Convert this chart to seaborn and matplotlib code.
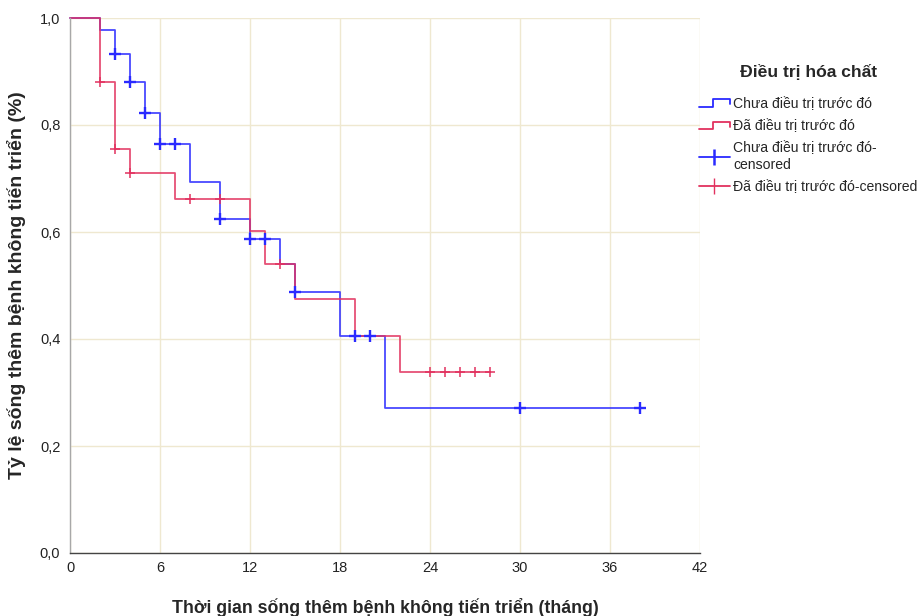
import numpy as np
import pandas as pd
import matplotlib
matplotlib.use("Agg")
import matplotlib.pyplot as plt
import seaborn as sns
from matplotlib.legend_handler import HandlerBase
from matplotlib.lines import Line2D
from matplotlib.ticker import FuncFormatter

# Kaplan-Meier step curves (time in months, survival proportion)
group_names = ["Chưa điều trị trước đó", "Đã điều trị trước đó"]

untreated_times = [0, 2, 3, 4, 5, 6, 8, 10, 12, 14, 15, 18, 21, 38]
untreated_surv = [1.0, 0.978, 0.933, 0.880, 0.823, 0.765, 0.694, 0.624,
                  0.586, 0.541, 0.487, 0.406, 0.271, 0.271]
untreated_censored = [3, 4, 5, 6, 7, 10, 12, 13, 15, 19, 20, 30, 38]

treated_times = [0, 2, 3, 4, 7, 12, 13, 15, 19, 22, 28]
treated_surv = [1.0, 0.880, 0.755, 0.710, 0.662, 0.601, 0.541, 0.474,
                0.406, 0.338, 0.338]
treated_censored = [2, 3, 4, 8, 10, 14, 24, 25, 26, 27, 28]

x_ticks = [0, 6, 12, 18, 24, 30, 36, 42]
y_ticks = [0.0, 0.2, 0.4, 0.6, 0.8, 1.0]

blue = "#2a2aff"
red = "#e2325f"


def surv_at(times, surv, t):
    idx = np.searchsorted(times, t, side="right") - 1
    return surv[idx]


curves = pd.concat([
    pd.DataFrame({"t": untreated_times, "s": untreated_surv, "g": group_names[0]}),
    pd.DataFrame({"t": treated_times, "s": treated_surv, "g": group_names[1]}),
], ignore_index=True)

marks = pd.concat([
    pd.DataFrame({"t": untreated_censored,
                  "s": [surv_at(untreated_times, untreated_surv, t) for t in untreated_censored],
                  "g": group_names[0]}),
    pd.DataFrame({"t": treated_censored,
                  "s": [surv_at(treated_times, treated_surv, t) for t in treated_censored],
                  "g": group_names[1]}),
], ignore_index=True)

sns.set_style("white")
plt.rcParams["font.family"] = ["Liberation Sans", "DejaVu Sans"]

fig = plt.figure(figsize=(9.21, 6.16), dpi=100)
ax = fig.add_axes([70 / 921, 1 - 553 / 616, 630 / 921, 535 / 616])

palette = {group_names[0]: blue, group_names[1]: red}
sns.lineplot(data=curves, x="t", y="s", hue="g", palette=palette,
             estimator=None, sort=False, drawstyle="steps-post",
             linewidth=1.3, alpha=0.85, legend=False, ax=ax)

sub_u = marks[marks["g"] == group_names[0]]
sub_t = marks[marks["g"] == group_names[1]]
sns.scatterplot(data=sub_t, x="t", y="s", marker="+", s=45, color=red,
                linewidth=1.1, legend=False, ax=ax, zorder=4)
sns.scatterplot(data=sub_u, x="t", y="s", marker="+", s=65, color=blue,
                linewidth=1.7, legend=False, ax=ax, zorder=5)

for artist in ax.lines + ax.collections:
    artist.set_clip_on(False)

ax.set_xlim(0, 42)
ax.set_ylim(0, 1.0)
ax.set_xticks(x_ticks)
ax.set_yticks(y_ticks)
ax.yaxis.set_major_formatter(FuncFormatter(lambda v, p: f"{v:.1f}".replace(".", ",")))
ax.tick_params(axis="x", length=0, pad=6, labelsize=10.5, colors="#222222")
ax.tick_params(axis="y", length=4, width=0.8, color="#555555", pad=3,
               labelsize=10.5, colors="#222222")

ax.grid(True, color="#efe8d0", linewidth=1.0)
ax.set_axisbelow(True)
for side in ["top", "right"]:
    ax.spines[side].set_visible(False)
ax.spines["left"].set_color("#a8a8a8")
ax.spines["left"].set_linewidth(1.0)
ax.spines["bottom"].set_color("#444444")
ax.spines["bottom"].set_linewidth(1.0)

ax.set_xlabel("Thời gian sống thêm bệnh không tiến triển (tháng)",
              fontsize=12.8, fontweight="bold", labelpad=16)
ax.set_ylabel("Tỷ lệ sống thêm bệnh không tiến triển (%)",
              fontsize=14, fontweight="bold", labelpad=10)


class StepHandler(HandlerBase):
    def create_artists(self, legend, orig_handle, xdescent, ydescent,
                       width, height, fontsize, trans):
        y0 = height * 0.1 - ydescent
        y1 = height * 0.85 - ydescent
        xs = [-xdescent, -xdescent + width * 0.45, -xdescent + width * 0.45,
              -xdescent + width, -xdescent + width]
        ys = [y0, y0, y1, y1, y0 + (y1 - y0) * 0.35]
        line = Line2D(xs, ys, color=orig_handle.get_color(), linewidth=1.3,
                      transform=trans)
        return [line]


class StepKey(Line2D):
    pass


handles = [
    StepKey([], [], color=blue),
    StepKey([], [], color=red),
    Line2D([], [], color=blue, linewidth=1.3, marker="|", markersize=12,
           markeredgewidth=1.8),
    Line2D([], [], color=red, linewidth=1.3, marker="|", markersize=11,
           markeredgewidth=1.0),
]
labels = [
    group_names[0],
    group_names[1],
    group_names[0] + "-\ncensored",
    group_names[1] + "-censored",
]

leg = fig.legend(handles, labels, title="Điều trị hóa chất",
                 loc="upper left", bbox_to_anchor=(699 / 921, 1 - 64 / 616),
                 frameon=False, fontsize=10.1, title_fontsize=12.6,
                 handlelength=2.2, handletextpad=0.22, labelspacing=0.6,
                 borderaxespad=0, borderpad=0,
                 handler_map={StepKey: StepHandler()})
leg.get_title().set_fontweight("bold")
leg._legend_box.align = "center"
leg._legend_box.sep = 12

fig.savefig("out.png", dpi=100)
